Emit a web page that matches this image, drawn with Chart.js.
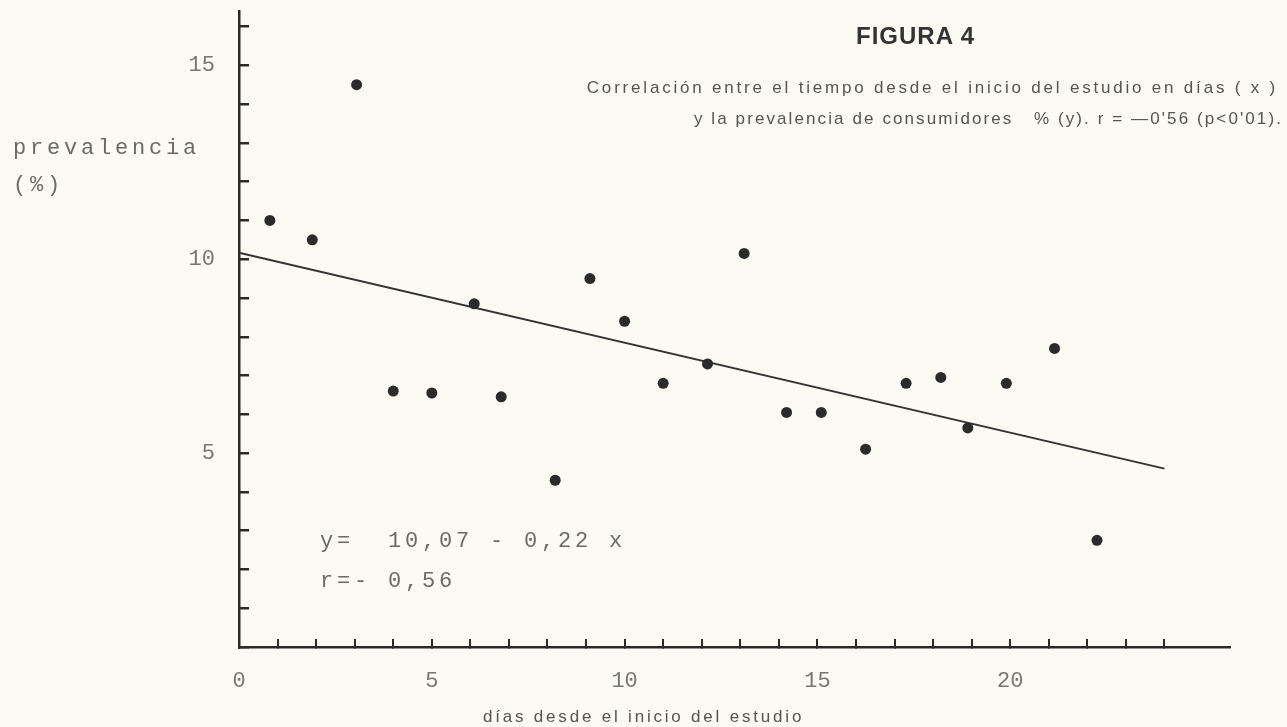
<!DOCTYPE html>
<html>
<head>
<meta charset="utf-8">
<script src="https://cdn.jsdelivr.net/npm/chart.js@4.4.1/dist/chart.umd.min.js"></script>
<style>
  html, body { margin: 0; padding: 0; background: #fbfbf3; }
  #wrap { position: relative; width: 1287px; height: 727px; overflow: hidden; }
  #wrap canvas { position: absolute; left: 0; top: 0; }
  .t { position: absolute; white-space: pre; line-height: 1; }
  .mono { font-family: "Liberation Mono", monospace; font-size: 22px; letter-spacing: 3.8px; color: #6b6b66; }
  .sans { font-family: "Liberation Sans", Arial, sans-serif; font-size: 17px; letter-spacing: 2.8px; color: #55554f; }
</style>
</head>
<body>
<div id="wrap">
  <canvas id="chart" width="1287" height="727"></canvas>
  <div class="t sans" style="left:856px;top:24px;font-weight:bold;font-size:24px;letter-spacing:1px;color:#333">FIGURA 4</div>
  <div class="t sans" style="right:9px;top:79px">Correlación entre el tiempo desde el inicio del estudio en días ( x )</div>
  <div class="t sans" style="right:4px;top:110px;letter-spacing:2.1px">y la prevalencia de consumidores   % (y). r = —0'56 (p&lt;0'01).</div>
  <div class="t mono" style="left:13px;top:138px">prevalencia</div>
  <div class="t mono" style="left:13px;top:175px">(%)</div>
  <div class="t mono" style="left:320px;top:531px">y=  10,07 - 0,22 x</div>
  <div class="t mono" style="left:320px;top:571px">r=- 0,56</div>
  <div class="t sans" style="left:483px;top:708px">días desde el inicio del estudio</div>
</div>
<script>
// days since start of study (x) and prevalence % (y)
const xDays = [0.8, 1.9, 3.05, 4.0, 5.0, 6.1, 6.8, 8.2, 9.1, 10.0, 11.0,
               12.15, 13.1, 14.2, 15.1, 16.25, 17.3, 18.2, 18.9, 19.9, 21.15, 22.25];
const yPrev = [11.0, 10.5, 14.5, 6.6, 6.55, 8.85, 6.45, 4.3, 9.5, 8.4, 6.8,
               7.3, 10.15, 6.05, 6.05, 5.1, 6.8, 6.95, 5.65, 6.8, 7.7, 2.75];

// regression line as drawn
const fitX = [0, 24];
const fitY = [10.17, 4.6];

const xMax = 25.7;
const yMax = 16.4;
const xLastTick = 24;

const ink = '#2a2a2a';
const tickFont = { family: 'Liberation Mono', size: 22 };

new Chart(document.getElementById('chart'), {
  type: 'scatter',
  data: {
    datasets: [
      {
        data: xDays.map((x, i) => ({ x, y: yPrev[i] })),
        pointRadius: 5.5,
        pointBorderWidth: 0,
        backgroundColor: '#2b2b2b',
        borderColor: '#2b2b2b',
      },
      {
        data: fitX.map((x, i) => ({ x, y: fitY[i] })),
        showLine: true,
        pointRadius: 0,
        borderColor: '#333',
        borderWidth: 2,
        fill: false,
      }
    ]
  },
  options: {
    responsive: false,
    animation: false,
    layout: { padding: { top: 11, right: 57, left: 0, bottom: 0 } },
    plugins: { legend: { display: false }, tooltip: { enabled: false } },
    scales: {
      x: {
        type: 'linear', min: 0, max: xMax,
        afterFit: s => { s.height = 80; s.paddingLeft = 0; s.paddingRight = 0; },
        afterBuildTicks: s => { s.ticks = s.ticks.filter(t => t.value <= xLastTick); },
        border: { color: ink, width: 2.5 },
        grid: { drawOnChartArea: false, drawTicks: true, tickLength: -8, color: ink, lineWidth: 2 },
        ticks: {
          stepSize: 1, includeBounds: false, autoSkip: false, maxRotation: 0,
          padding: 29, color: '#77776f', font: tickFont,
          callback: v => v % 5 === 0 ? String(v) : ''
        }
      },
      y: {
        type: 'linear', min: 0, max: yMax,
        afterFit: s => { s.width = 239; s.paddingTop = 0; s.paddingBottom = 0; },
        border: { color: ink, width: 2.5 },
        grid: { drawOnChartArea: false, drawTicks: true, tickLength: -10, color: ink, lineWidth: 2.5 },
        ticks: {
          stepSize: 1, includeBounds: false, autoSkip: false,
          padding: 34, color: '#77776f', font: tickFont,
          callback: v => (v % 5 === 0 && v > 0) ? String(v) : ''
        }
      }
    }
  }
});
</script>
</body>
</html>
